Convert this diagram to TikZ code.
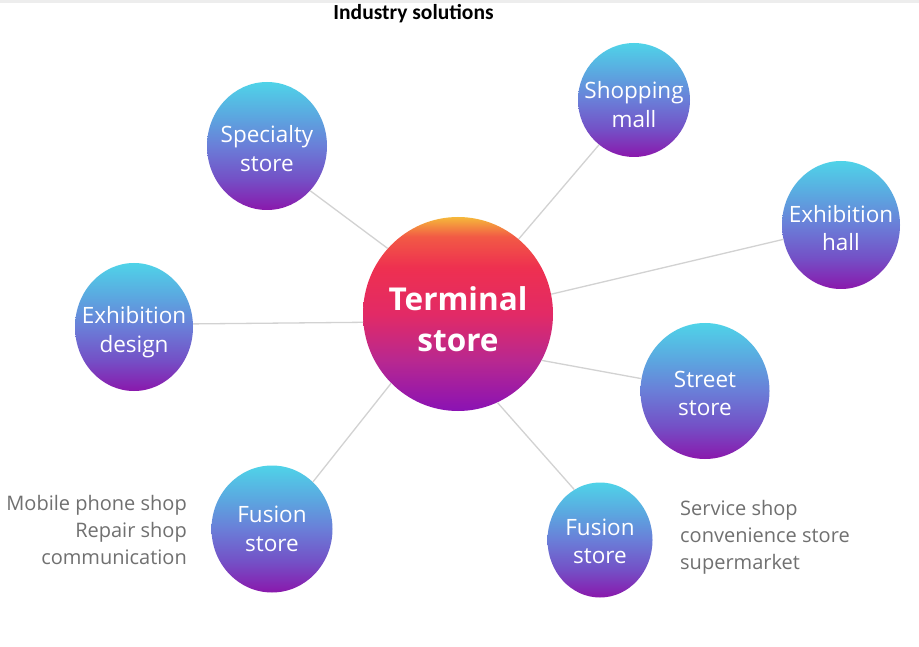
\documentclass[tikz,border=0pt]{standalone}
\usepackage{fontspec}
\setmainfont{Open Sans}
\newfontfamily\titlefont{Carlito}
\usetikzlibrary{shapes.geometric}
\definecolor{bb1}{HTML}{8A18AC}
\definecolor{bb2}{HTML}{7450C6}
\definecolor{bb3}{HTML}{6A7ED8}
\definecolor{bb4}{HTML}{5BA8E0}
\definecolor{bb5}{HTML}{4FD3E8}
\definecolor{rr1}{HTML}{8A12B4}
\definecolor{rr2}{HTML}{B82890}
\definecolor{rr3}{HTML}{E22A66}
\definecolor{rr4}{HTML}{EE3050}
\definecolor{rr5}{HTML}{F25A45}
\definecolor{rr6}{HTML}{F5B83A}
\definecolor{linegray}{HTML}{D2D2D2}
\definecolor{sidegray}{HTML}{707070}
\definecolor{bandgray}{HTML}{EDEDED}
\pgfdeclareverticalshading{ballblue}{100bp}{color(0bp)=(bb1); color(25bp)=(bb1); color(37bp)=(bb2); color(50bp)=(bb3); color(62bp)=(bb4); color(75bp)=(bb5); color(100bp)=(bb5)}
\pgfdeclareverticalshading{ballred}{100bp}{color(0bp)=(rr1); color(25bp)=(rr1); color(38bp)=(rr2); color(50bp)=(rr3); color(62bp)=(rr4); color(70bp)=(rr5); color(75bp)=(rr6); color(100bp)=(rr6)}
\tikzset{
  ball/.style={ellipse, inner sep=0pt, shade, shading=ballblue},
  hub/.style={ellipse, inner sep=0pt, shade, shading=ballred},
  balltext/.style={text=white, align=center, inner sep=0pt,
    font=\fontsize{22.5}{28.5}\selectfont},
  hubtext/.style={text=white, align=center, inner sep=0pt,
    font=\bfseries\fontsize{31.5}{41}\selectfont},
  link/.style={draw=linegray, line width=1.3pt},
  side/.style={text=sidegray, font=\fontsize{20}{27}\selectfont, inner sep=0pt}
}
\begin{document}
\begin{tikzpicture}[x=1pt,y=-1pt]
\useasboundingbox (0,0) rectangle (919,647);
\fill[white] (0,0) rectangle (919,647);
\fill[bandgray] (0,0) rectangle (919,3);
\node[font=\titlefont\bfseries\fontsize{21.5}{24}\selectfont, inner sep=0pt] (title) at (413.5,14) {Industry solutions};

\node[hub, minimum width=190pt, minimum height=194pt] (T) at (458,314) {};
\node[ball, minimum width=120pt, minimum height=128pt] (spec) at (267,146) {};
\node[ball, minimum width=112pt, minimum height=114pt] (mall) at (634,100) {};
\node[ball, minimum width=118pt, minimum height=128pt] (hall) at (841,225) {};
\node[ball, minimum width=118pt, minimum height=128pt] (design) at (134,327) {};
\node[ball, minimum width=129pt, minimum height=136pt] (street) at (705,391) {};
\node[ball, minimum width=121pt, minimum height=127pt] (fusL) at (272,529) {};
\node[ball, minimum width=105pt, minimum height=115pt] (fusR) at (600,540) {};

\node[hubtext, yshift=-5pt] (Ttext) at (T) {Terminal\\store};
\node[balltext, yshift=-2.5pt] (spectext) at (spec) {Specialty\\store};
\node[balltext, yshift=-4.5pt] (malltext) at (mall) {Shopping\\mall};
\node[balltext, yshift=-3pt] (halltext) at (hall) {Exhibition\\hall};
\node[balltext, yshift=-5pt] (designtext) at (design) {Exhibition\\design};
\node[balltext, yshift=-2.5pt] (streettext) at (street) {Street\\store};
\node[balltext] (fusLtext) at (fusL) {Fusion\\store};
\node[balltext, yshift=-1.5pt] (fusRtext) at (fusR) {Fusion\\store};

\draw[link] (spec.-46) -- (T.137);
\draw[link] (mall.-128) -- (T.51);
\draw[link] (hall.194) -- (T.12);
\draw[link] (design.3) -- (T.185);
\draw[link] (street.169) -- (T.-29);
\draw[link] (fusL.49) -- (T.226);
\draw[link] (fusR.117) -- (T.-66);

\node[side, align=right, anchor=east] (sideL) at (187,530) {Mobile phone shop\\Repair shop\\communication};
\node[side, align=left, anchor=west] (sideR) at (680,537) {Service shop\\convenience store\\supermarket};
\end{tikzpicture}
\end{document}
